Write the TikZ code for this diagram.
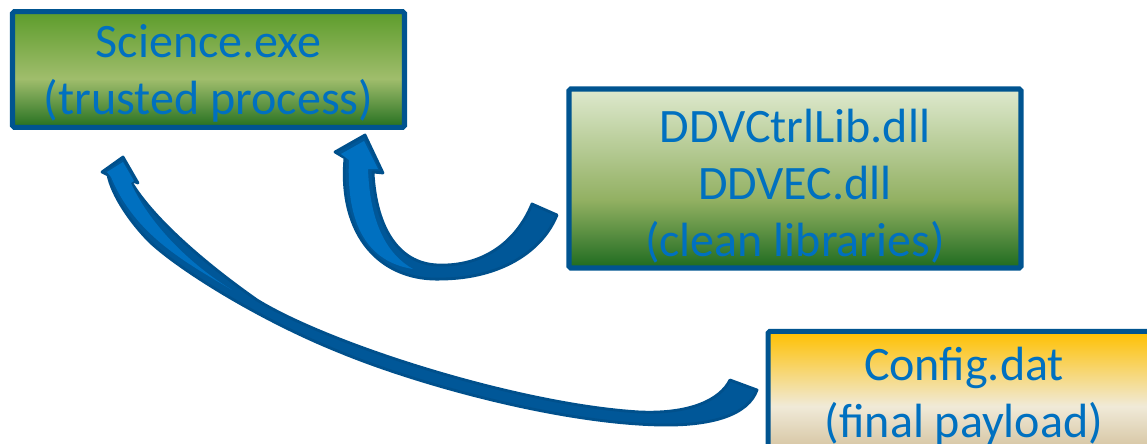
\documentclass[tikz,border=0pt]{standalone}
\usepackage{fontspec}
\setmainfont{Carlito}
\usetikzlibrary{positioning}

\definecolor{textblue}{RGB}{0,112,192}
\definecolor{boxline}{RGB}{0,84,144}
\definecolor{arrowlight}{RGB}{0,112,192}
\definecolor{arrowdark}{RGB}{0,87,152}
\definecolor{arrowline}{RGB}{0,80,140}
\definecolor{sciT}{RGB}{93,156,43}
\definecolor{sciM}{RGB}{160,189,108}
\definecolor{sciB}{RGB}{37,112,32}
\definecolor{libT}{RGB}{222,233,206}
\definecolor{libM}{RGB}{146,176,98}
\definecolor{libB}{RGB}{30,107,31}
\definecolor{payT}{RGB}{255,192,0}
\definecolor{payM}{RGB}{240,234,216}
\definecolor{payB}{RGB}{212,194,158}

\pgfdeclareverticalshading{sciencefill}{100bp}{color(0bp)=(sciB); color(25bp)=(sciB); color(46bp)=(sciM); color(75bp)=(sciT); color(100bp)=(sciT)}
\pgfdeclareverticalshading{libfill}{100bp}{color(0bp)=(libB); color(25bp)=(libB); color(44bp)=(libM); color(75bp)=(libT); color(100bp)=(libT)}
\pgfdeclareverticalshading{payloadfill}{100bp}{color(0bp)=(payB); color(25bp)=(payB); color(44bp)=(payM); color(75bp)=(payT); color(100bp)=(payT)}

\newcommand{\lift}[1]{\rule{0pt}{#1}}

\begin{document}
\begin{tikzpicture}[x=0.03cm,y=-0.03cm,
  box/.style={draw=boxline,line width=4.4pt,rounded corners=1.5pt,inner sep=0pt,shade,align=center,text=textblue,font=\fontsize{41}{48.6}\selectfont},
  blockarrow/.style={draw=arrowline,line width=2.4pt,line join=round,fill=arrowdark},
  twistface/.style={fill=arrowlight}]

\useasboundingbox (0,0) rectangle (1147,443);
\clip (0,0) rectangle (1147,443);

\node[box,shading=sciencefill,minimum width=11.76cm,minimum height=3.47cm] (science) at (208.5,69.5) {\lift{0.86em}Science.exe\\(trusted process)};
\node[box,shading=libfill,minimum width=13.56cm,minimum height=5.37cm] (libs) at (795,178.5) {\lift{1em}DDVCtrlLib.dll\\DDVEC.dll\\(clean libraries)};
\node[box,shading=payloadfill,minimum width=11.75cm,minimum height=3.62cm] (payload) at (964,391.75) {\lift{0.86em}Config.dat\\(final payload)};

\coordinate (tipA) at (365,135);
\coordinate (tipB) at (123,157);

\draw[blockarrow] (532,204) .. controls (515,245) and (480,266) .. (440,265)
  .. controls (400,265) and (376,230) .. (373,172) -- (383,173) -- (tipA) -- (335,152) -- (345,158)
  .. controls (338,235) and (380,282) .. (443,279)
  .. controls (500,278) and (542,252) .. (557,215) -- cycle;
\fill[twistface] (349,160) -- (341,154) -- (364,141) -- (378,169) -- (368,169)
  .. controls (370,225) and (388,255) .. (413,269)
  .. controls (368,262) and (346,225) .. (349,160) -- cycle;

\draw[blockarrow] (730,380) -- (757,390)
  .. controls (748,415) and (712,426) .. (660,425)
  .. controls (560,423) and (420,385) .. (340,352)
  .. controls (260,320) and (180,270) .. (150,242)
  .. controls (130,222) and (112,195) .. (108,175)
  -- (102,172) -- (tipB) -- (138,183) -- (130,180)
  .. controls (150,215) and (200,260) .. (257,300)
  .. controls (330,345) and (520,405) .. (640,412)
  .. controls (690,414) and (720,400) .. (730,380) -- cycle;
\fill[twistface] (111,177) -- (107,172) -- (123,162) -- (134,181) -- (131,183)
  .. controls (145,215) and (180,258) .. (232,290)
  .. controls (185,262) and (135,235) .. (111,177) -- cycle;

\end{tikzpicture}
\end{document}
